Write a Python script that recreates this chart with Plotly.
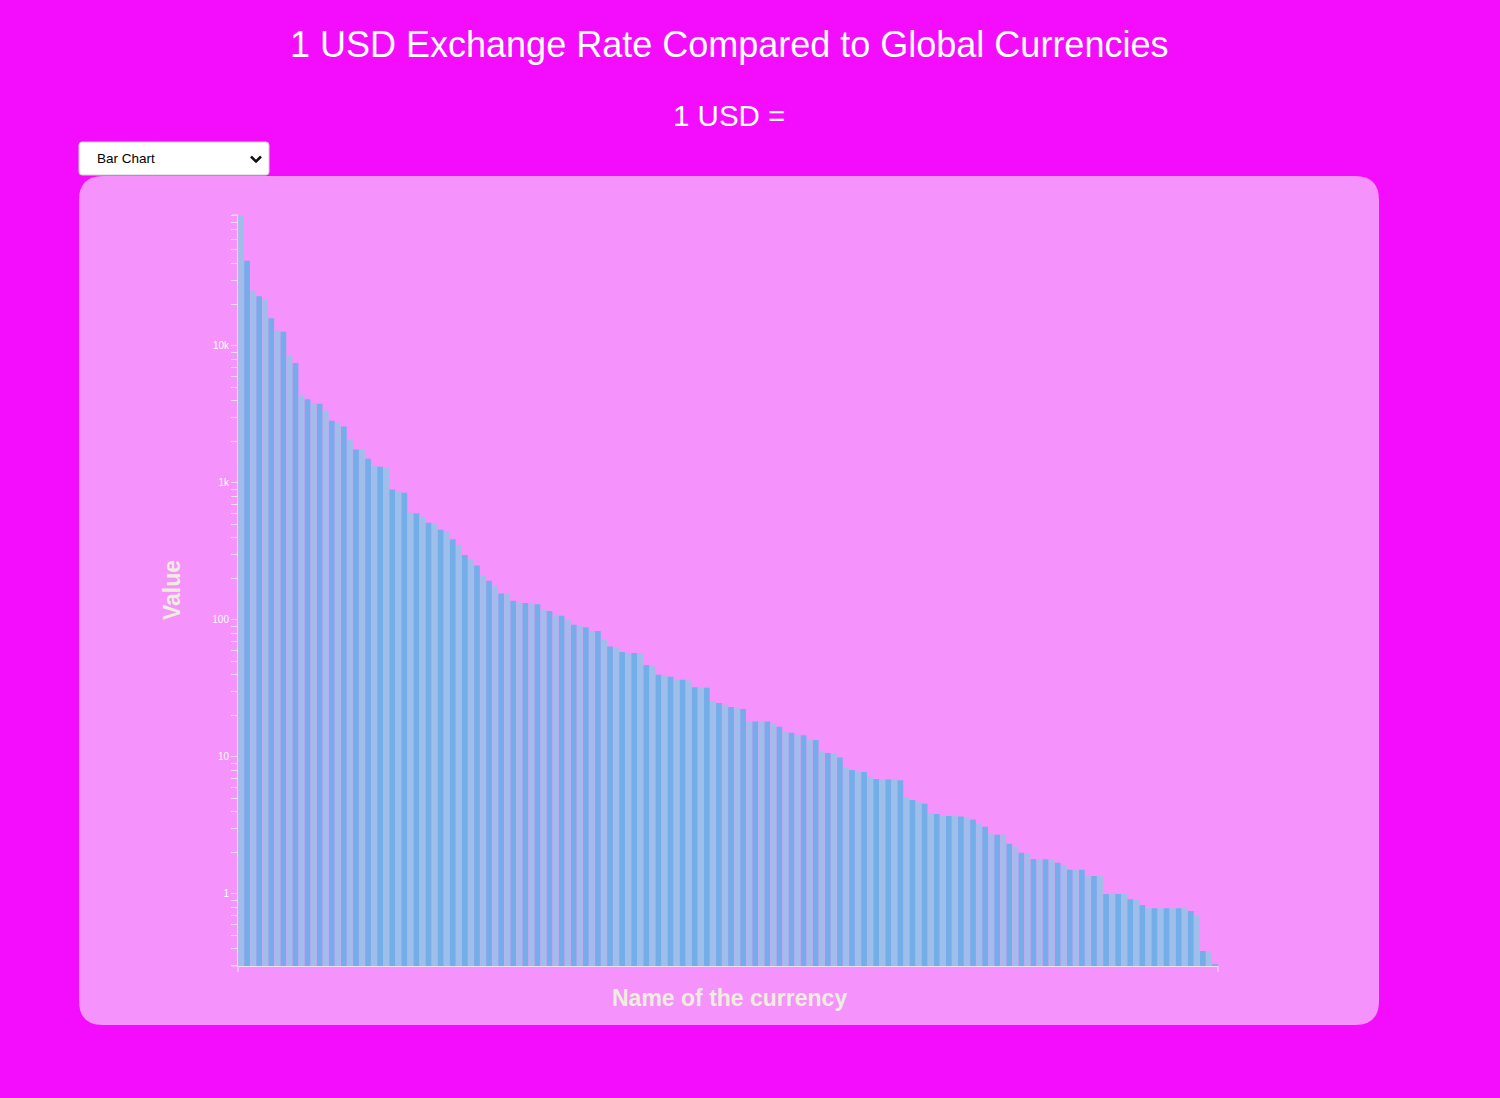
import plotly.graph_objects as go
import math

# ---------------- data ----------------
currencies = [
    "LBP", "IRR", "VND", "SLL", "LAK", "IDR", "UZS", "SYP", "GNF", "PYG",
    "MGA", "KHR", "COP", "UGX", "MNT", "BIF", "CDF", "TZS", "MMK", "MWK",
    "SSP", "NGN", "KRW", "IQD", "RWF", "KPW", "CLP", "ARS", "XAF", "XOF",
    "SDG", "CRC", "SOS", "KZT", "KMF", "AMD", "HUF", "LKR", "PKR", "YER",
    "GYD", "LRD", "DJF", "JPY", "JMD", "ISK", "DZD", "NPR", "HTG", "KES",
    "VUV", "BDT", "XPF", "RSD", "ALL", "RUB", "KGS", "AOA", "BTN", "INR",
    "AFN", "MZN", "MKD", "DOP", "PHP", "ETB", "SLE", "EGP", "MUR", "UYU",
    "MRU", "NIO", "THB", "VES", "SRD", "TWD", "TRY", "UAH", "ZMW", "HNL",
    "CZK", "STN", "CUP", "GMD", "ZAR", "NAD", "LSL", "SZL", "MDL", "MXN",
    "MVR", "ERN", "GHS", "BWP", "SCR", "ZWL", "NOK", "SEK", "TJS", "MAD",
    "SVC", "MOP", "HKD", "GTQ", "CNY", "DKK", "BOB", "TTD", "HRK", "FOK",
    "BRL", "MYR", "RON", "LYD", "PGK", "PLN", "ILS", "PEN", "SAR", "AED",
    "QAR", "TMT", "BYN", "TND", "GEL", "WST", "XCD", "TOP", "FJD", "BBD",
    "BZD", "ANG", "AWG", "BGN", "BAM", "AZN", "NZD", "AUD", "TVD", "KID",
    "CAD", "SGD", "BND", "USD", "BSD", "BMD", "PAB", "EUR", "CHF", "KYD",
    "GBP", "FKP", "GIP", "GGP", "IMP", "JEP", "SHP", "XDR", "JOD", "OMR",
    "BHD", "KWD",
]

rates = [
    90000, 41700, 25200, 23000, 21700, 15900, 12900, 12650, 8550, 7480,
    4390, 4080, 3820, 3770, 3370, 2840, 2740, 2580, 2080, 1750,
    1750, 1496, 1345, 1309, 1302, 894, 864, 845, 604, 601,
    568, 511, 508, 454, 444, 388, 353, 298, 277, 249,
    210, 193, 177, 156, 156, 138, 134, 133, 132, 130,
    119, 116, 109, 107, 101, 92.0, 90.9, 88.5, 83.1, 83.1,
    72.1, 63.9, 63.2, 58.4, 57.4, 57.4, 56.8, 46.9, 45.9, 39.7,
    39.2, 38.4, 36.7, 36.5, 36.1, 32.3, 32.0, 32.0, 25.5, 24.7,
    24.0, 23.1, 22.7, 22.4, 18.1, 18.1, 18.1, 18.1, 17.7, 16.6,
    15.4, 15.0, 14.5, 14.4, 13.5, 13.3, 10.9, 10.7, 10.6, 9.89,
    8.41, 8.04, 7.77, 7.77, 7.18, 6.91, 6.88, 6.83, 6.83, 6.76,
    5.11, 4.86, 4.67, 4.56, 3.90, 3.84, 3.73, 3.71, 3.71, 3.67,
    3.63, 3.49, 3.26, 3.10, 2.74, 2.71, 2.70, 2.33, 2.23, 2.00,
    1.99, 1.80, 1.79, 1.79, 1.79, 1.69, 1.62, 1.50, 1.50, 1.50,
    1.35, 1.35, 1.35, 1.00, 1.00, 1.00, 1.00, 0.915, 0.904, 0.831,
    0.786, 0.786, 0.786, 0.786, 0.786, 0.786, 0.786, 0.751, 0.703, 0.384,
    0.375, 0.307,
]

title_text = "1 USD Exchange Rate Compared to Global Currencies"
subtitle_text = "1 USD ="
x_title = "Name of the currency"
y_title = "Value"
dropdown_label = "Bar Chart"

# ---------------- style ----------------
PAGE_BG = "#f40cfc"
PANEL_BG = "#f592fc"
LIGHT_BAR = "#9fbfea"
DARK_BAR = "#72aeea"
AXIS_COL = "#f3dcf3"
AXIS_TITLE_COL = "#eeeedc"
FONT = "Arial, 'Liberation Sans', sans-serif"

W, H = 1500, 1098
PL, PR, PT, PB = 238, 1218, 215, 966  # plot area in pixels


def fx(px):
    return (px - PL) / (PR - PL)


def fy(py):
    return (PB - py) / (PB - PT)


bar_colors = [LIGHT_BAR if i % 2 == 0 else DARK_BAR for i in range(len(rates))]

fig = go.Figure()
fig.add_trace(go.Bar(
    x=currencies,
    y=rates,
    marker=dict(color=bar_colors, line=dict(width=0)),
    hovertemplate="%{x}: %{y}<extra></extra>",
))

y_lo = -0.5255
y_hi = math.log10(max(rates))

shapes = []

# rounded panel
x0, x1 = fx(79), fx(1379)
y0, y1 = fy(1025), fy(176)
rx, ry = 24 / (PR - PL), 24 / (PB - PT)
panel_path = (
    f"M {x0+rx},{y1} L {x1-rx},{y1} Q {x1},{y1} {x1},{y1-ry} "
    f"L {x1},{y0+ry} Q {x1},{y0} {x1-rx},{y0} "
    f"L {x0+rx},{y0} Q {x0},{y0} {x0},{y0+ry} "
    f"L {x0},{y1-ry} Q {x0},{y1} {x0+rx},{y1} Z"
)
shapes.append(dict(type="path", xref="paper", yref="paper", path=panel_path,
                   fillcolor=PANEL_BG, line=dict(width=0), layer="below"))

# dropdown box
dx0, dx1 = fx(79), fx(269)
dy0, dy1 = fy(175), fy(142)
drx, dry = 3 / (PR - PL), 3 / (PB - PT)
dd_path = (
    f"M {dx0+drx},{dy1} L {dx1-drx},{dy1} Q {dx1},{dy1} {dx1},{dy1-dry} "
    f"L {dx1},{dy0+dry} Q {dx1},{dy0} {dx1-drx},{dy0} "
    f"L {dx0+drx},{dy0} Q {dx0},{dy0} {dx0},{dy0+dry} "
    f"L {dx0},{dy1-dry} Q {dx0},{dy1} {dx0+drx},{dy1} Z"
)
shapes.append(dict(type="path", xref="paper", yref="paper", path=dd_path,
                   fillcolor="#ffffff", line=dict(color="#cfcfcf", width=1)))
# chevron
chev = f"M {fx(251)},{fy(156.5)} L {fx(256)},{fy(161.5)} L {fx(261)},{fy(156.5)}"
shapes.append(dict(type="path", xref="paper", yref="paper", path=chev,
                   line=dict(color="#111111", width=2.5)))

# outer ticks of the axes (d3-style domain paths)
for px in (PL, PR):
    shapes.append(dict(type="line", xref="paper", yref="paper",
                       x0=fx(px), x1=fx(px), y0=0, y1=fy(PB + 6),
                       line=dict(color=AXIS_COL, width=1)))
for py in (PT, PB):
    shapes.append(dict(type="line", xref="paper", yref="paper",
                       x0=fx(PL - 6), x1=0, y0=fy(py), y1=fy(py),
                       line=dict(color=AXIS_COL, width=1)))

annotations = [
    dict(text=title_text, x=fx(729), y=fy(44), xref="paper", yref="paper",
         showarrow=False, xanchor="center", yanchor="middle",
         font=dict(size=36, color="#ffffff", family=FONT)),
    dict(text=subtitle_text, x=fx(729), y=fy(116), xref="paper", yref="paper",
         showarrow=False, xanchor="center", yanchor="middle",
         font=dict(size=29.5, color="#ffffff", family=FONT)),
    dict(text=f"<b>{y_title}</b>", x=fx(172), y=fy(590), xref="paper", yref="paper",
         showarrow=False, xanchor="center", yanchor="middle", textangle=-90,
         font=dict(size=23, color=AXIS_TITLE_COL, family=FONT)),
    dict(text=f"<b>{x_title}</b>", x=fx(729), y=fy(998), xref="paper", yref="paper",
         showarrow=False, xanchor="center", yanchor="middle",
         font=dict(size=23, color=AXIS_TITLE_COL, family=FONT)),
    dict(text=dropdown_label, x=fx(95), y=fy(159), xref="paper", yref="paper",
         showarrow=False, xanchor="left", yanchor="middle",
         font=dict(size=13.5, color="#000000", family=FONT)),
]

fig.update_layout(
    width=W, height=H,
    margin=dict(l=PL, r=W - PR, t=PT, b=H - PB, pad=0),
    paper_bgcolor=PAGE_BG,
    plot_bgcolor="rgba(0,0,0,0)",
    showlegend=False,
    bargap=0.06,
    font=dict(family=FONT, color="#ffffff"),
    shapes=shapes,
    annotations=annotations,
    xaxis=dict(
        type="category",
        showticklabels=False,
        ticks="",
        showgrid=False,
        zeroline=False,
        showline=True,
        linecolor=AXIS_COL,
        linewidth=1,
        range=[-0.5, len(rates) - 0.5],
        fixedrange=True,
    ),
    yaxis=dict(
        type="log",
        range=[y_lo, y_hi],
        dtick=1,
        tickformat="~s",
        ticks="outside",
        ticklen=6,
        tickcolor=AXIS_COL,
        tickfont=dict(size=10, color="#ffffff", family=FONT),
        showgrid=False,
        zeroline=False,
        showline=True,
        linecolor=AXIS_COL,
        linewidth=1,
        minor=dict(ticks="outside", ticklen=6, tickcolor=AXIS_COL, showgrid=False),
        fixedrange=True,
    ),
)

fig.write_html(
    "out.html",
    config={"displayModeBar": False},
    post_script="document.body.style.margin='0';document.body.style.overflow='hidden';",
)
